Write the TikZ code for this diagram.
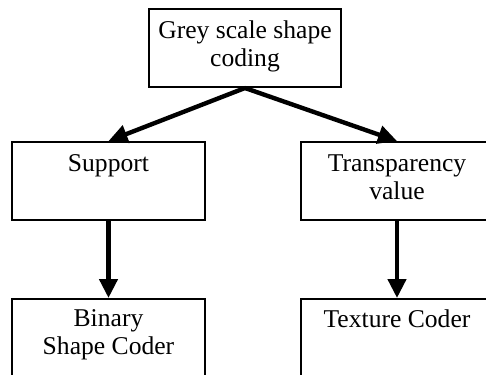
\documentclass[tikz,border=0pt]{standalone}
\usepackage{fontspec}
\setmainfont{Liberation Serif}
\usetikzlibrary{positioning,calc,arrows.meta}
\tikzset{
    block/.style = {draw, rectangle, line width=1pt,
        minimum height=39pt,
        minimum width=96pt},
    lbl/.style = {align=center, inner sep=0pt, anchor=north,
        font=\fontsize{12.8}{14}\selectfont},
    arrow/.style={draw, line width=2.2pt, -{Triangle[length=9.5pt,width=9pt]}}
}

\begin{document}
\begin{tikzpicture}
        \useasboundingbox (-122.5pt,24pt) rectangle (120.5pt,-163pt);
        \node [block, name=grey] {};
        \node [block, below of=grey, node distance=66.5pt, xshift=-68.25pt, name=support] {};
        \node [block, below of=grey, node distance=66.5pt, xshift=76pt, name=transp] {};
        \node [block, below=38.5pt of support, name=binary] {};
        \node [block, below=38.5pt of transp, name=texture] {};
        % labels sit at the top of each box
        \node [lbl] (greytxt) at ([yshift=-6pt]grey.north) {Grey scale shape\\coding};
        \node [lbl] (supporttxt) at ([yshift=-6.5pt]support.north) {Support};
        \node [lbl] (transptxt) at ([yshift=-6.5pt]transp.north) {Transparency\\value};
        \node [lbl] (binarytxt) at ([yshift=-5.5pt]binary.north) {Binary\\Shape Coder};
        \node [lbl] (texturetxt) at ([yshift=-5.5pt]texture.north) {Texture Coder};
        \draw [arrow] (grey.south) -- (support.north);
        \draw [arrow] (grey.south) -- (transp.north);
        \draw [arrow] (support) -- (binary);
        \draw [arrow] (transp) -- (texture);
\end{tikzpicture}
\end{document}
